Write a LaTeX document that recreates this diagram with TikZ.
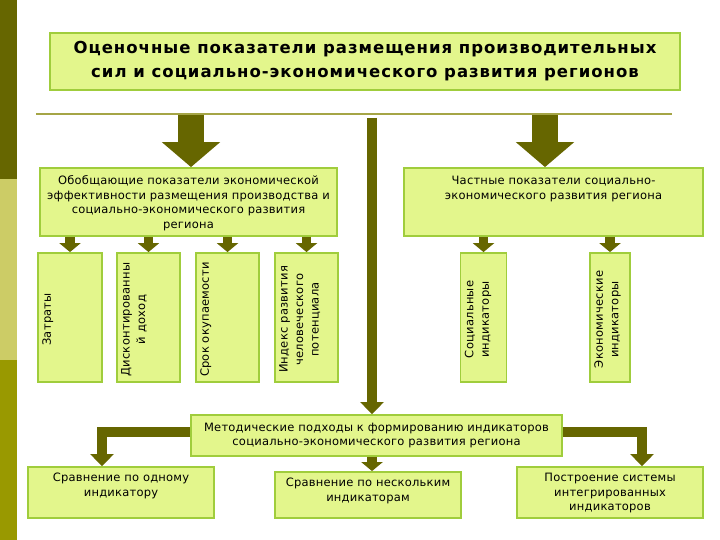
\documentclass[tikz,border=0pt]{standalone}
\usepackage{fontspec}
\setmainfont{DejaVu Sans}[LetterSpace=2]
\newfontfamily\titlefont{DejaVu Sans}[LetterSpace=6]
\usetikzlibrary{arrows.meta}
\definecolor{boxfill}{RGB}{227,246,140}
\definecolor{boxline}{RGB}{160,205,60}
\definecolor{arrowc}{RGB}{102,102,0}
\definecolor{stripA}{RGB}{102,102,0}
\definecolor{stripB}{RGB}{204,204,102}
\definecolor{stripC}{RGB}{153,153,0}
\definecolor{rulec}{RGB}{165,165,70}
\begin{document}
\begin{tikzpicture}[x=1pt,y=-1pt,
  box/.style={draw=boxline, fill=boxfill, line width=1.8pt, inner sep=0pt, rectangle},
  txt/.style={font=\fontsize{11.5}{14.5}\selectfont, align=center, inner sep=0pt},
  vtxt/.style={font=\fontsize{11.5}{15.5}\selectfont, align=center, rotate=90, anchor=north, inner sep=0pt},
  bigarrow/.style={draw=arrowc, line width=26pt, -{Triangle[width=57pt,length=25pt]}},
  midarrow/.style={draw=arrowc, line width=9.5pt, -{Triangle[width=23pt,length=12pt]}},
  smallarrow/.style={draw=arrowc, line width=9.5pt, -{Triangle[width=21pt,length=9pt]}}
]
\useasboundingbox (0,0) rectangle (720,540);
\fill[white] (0,0) rectangle (720,540);
% left strip
\fill[stripA] (0,0) rectangle (17,179);
\fill[stripB] (0,179) rectangle (17,360);
\fill[stripC] (0,360) rectangle (17,540);
% title
\node[box, minimum width=630pt, minimum height=57pt, font=\titlefont\fontsize{16.5}{24}\selectfont\bfseries, align=center] (title) at (365,61.5)
  {Оценочные показатели размещения производительных\\сил и социально-экономического развития регионов};
% rule
\coordinate (ruleL) at (36,114);
\coordinate (ruleR) at (672,114);
\draw[rulec, line width=1.5pt] (ruleL) -- (ruleR);
% main boxes
\node[box, minimum width=297pt, minimum height=68pt] (lbox) at (188.5,202) {};
\node[txt] (ltxt) at ([yshift=-1pt]lbox.center) {Обобщающие показатели экономической\\эффективности размещения производства и\\социально-экономического развития\\региона};
\node[box, minimum width=299pt, minimum height=68pt] (rbox) at (553.5,202) {};
\node[txt, anchor=north] (rtxt) at (553.5,176) {Частные показатели социально-\\экономического развития региона};
% vertical boxes
\node[box, minimum width=64pt, minimum height=129pt] (v1) at (70,317.5) {};
\node[box, minimum width=63pt, minimum height=129pt] (v2) at (148.5,317.5) {};
\node[box, minimum width=63pt, minimum height=129pt] (v3) at (227.5,317.5) {};
\node[box, minimum width=63pt, minimum height=129pt] (v4) at (306.5,317.5) {};
\node[box, minimum width=46pt, minimum height=129pt] (v5) at (483.5,317.5) {};
\node[box, minimum width=40pt, minimum height=129pt] (v6) at (610,317.5) {};
\node[vtxt] (t1) at ([xshift=5pt,yshift=-2pt]v1.west) {Затраты};
\node[vtxt] (t2) at ([xshift=5pt,yshift=-2pt]v2.west) {Дисконтированны\\й доход};
\node[vtxt] (t3) at ([xshift=5pt,yshift=-2pt]v3.west) {Срок окупаемости};
\node[vtxt] (t4) at ([xshift=5pt,yshift=-2pt]v4.west) {Индекс развития\\человеческого\\потенциала};
\node[vtxt] (t5) at ([xshift=5pt,yshift=-2pt]v5.west) {Социальные\\индикаторы};
\node[vtxt] (t6) at ([xshift=5pt,yshift=-2pt]v6.west) {Экономические\\индикаторы};
% methodic box
\node[box, minimum width=371pt, minimum height=41pt] (mbox) at (376.5,435.5) {};
\node[txt] (mtxt) at (mbox.center) {Методические подходы к формированию индикаторов\\социально-экономического развития региона};
% bottom boxes
\node[box, minimum width=186pt, minimum height=51pt] (b1) at (121,492.5) {};
\node[txt, anchor=north] (b1t) at (121,473) {Сравнение по одному\\индикатору};
\node[box, minimum width=186pt, minimum height=46pt] (b2) at (368,495) {};
\node[txt, anchor=north] (b2t) at (368,478) {Сравнение по нескольким\\индикаторам};
\node[box, minimum width=186pt, minimum height=51pt] (b3) at (610,492.5) {};
\node[txt, anchor=north] (b3t) at (610,473) {Построение системы\\интегрированных\\индикаторов};
% big arrows
\coordinate (la) at (191,115);
\coordinate (ra) at (545,115);
\draw[bigarrow] (la) -- (la |- lbox.north);
\draw[bigarrow] (ra) -- (ra |- rbox.north);
% central bar
\coordinate (cb) at (372,118);
\draw[midarrow] (cb) -- (cb |- mbox.north);
% small arrows
\foreach \v in {v1,v2,v3,v4} {\draw[smallarrow] (lbox.south -| \v.north) -- (\v.north);}
\foreach \v in {v5,v6} {\draw[smallarrow] (rbox.south -| \v.north) -- (\v.north);}
% bottom arrows
\draw[midarrow] ([yshift=3.5pt]mbox.west) -| ([xshift=-19pt]b1.north);
\draw[midarrow] ([yshift=3.5pt]mbox.east) -| ([xshift=32pt]b3.north);
\draw[smallarrow] ([xshift=4pt]mbox.south -| b2.north) -- ([xshift=4pt]b2.north);
\end{tikzpicture}
\end{document}
